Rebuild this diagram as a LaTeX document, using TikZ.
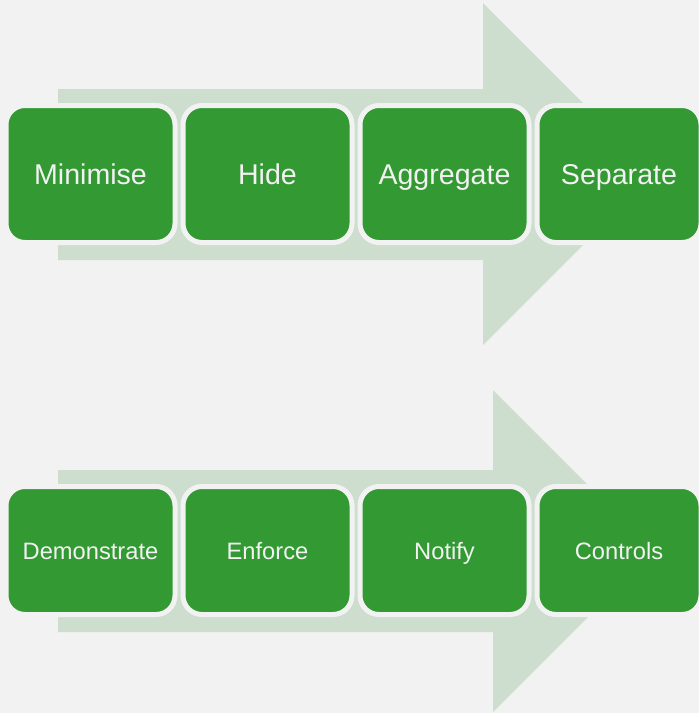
\documentclass[tikz,border=0pt]{standalone}
\usepackage{fontspec}
\setmainfont{Liberation Sans}
\usepackage{xcolor}
\usetikzlibrary{
  positioning
}
\definecolor{pagebg}{RGB}{242,242,242}
\definecolor{leafgreen}{RGB}{51,153,51}
\definecolor{palegreen}{RGB}{205,222,207}
\tikzset{
  bigarrow/.style={
    fill=palegreen,
    draw=none
  },
  stagebox/.style={
    rounded corners=19pt,
    draw=pagebg,
    fill=leafgreen,
    line width=5pt,
    outer sep=0pt,
    minimum width=169pt,
    text depth=0pt,
    align=center,
    text=pagebg
  },
  toprow/.style={
    stagebox,
    minimum height=137pt,
    text height=20.5pt,
    font=\fontsize{28.6}{34}\selectfont
  },
  lowrow/.style={
    stagebox,
    minimum height=128pt,
    text height=17pt,
    font=\fontsize{23.7}{28}\selectfont
  }
}

\begin{document}
\begin{tikzpicture}[x=1pt, y=-1pt, node distance=8pt]
  \useasboundingbox[fill=pagebg] (0,0) rectangle (699,713);
  \fill[bigarrow] (58,89) -- (483,89) -- (483,3) -- (654,174)
    -- (483,345) -- (483,260) -- (58,260) -- cycle;
  \fill[bigarrow] (58,470) -- (493,470) -- (493,390) -- (654,551)
    -- (493,712) -- (493,632) -- (58,632) -- cycle;

  \node[toprow] (minimise) at (90.5,174) {Minimise};
  \node[toprow, right=of minimise] (hide) {Hide};
  \node[toprow, right=of hide] (aggregate) {Aggregate};
  \node[toprow, right=of aggregate, minimum width=164pt] (separate) {Separate};

  \node[lowrow] (demonstrate) at (90.5,550.5) {Demonstrate};
  \node[lowrow, right=of demonstrate] (enforce) {Enforce};
  \node[lowrow, right=of enforce] (notify) {Notify};
  \node[lowrow, right=of notify, minimum width=164pt] (controls) {Controls};
\end{tikzpicture}
\end{document}
